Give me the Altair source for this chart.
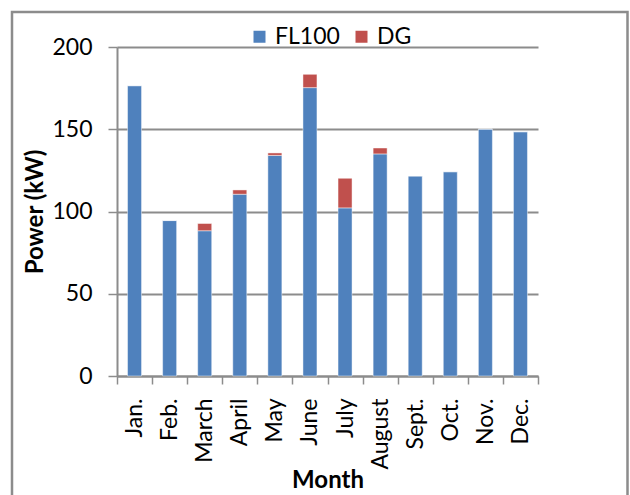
import altair as alt
import pandas as pd

# Monthly power supplied by each source (kW)
months = ["Jan.", "Feb.", "March", "April", "May", "June",
          "July", "August", "Sept.", "Oct.", "Nov.", "Dec."]
fl100 = [176.5, 94.5, 88.3, 110.5, 134.1, 175.3, 102.2, 135.0, 121.6, 124.2, 150.1, 148.5]
dg = [0.0, 0.0, 4.4, 2.6, 1.5, 8.1, 18.0, 3.6, 0.0, 0.0, 0.0, 0.0]
sources = ["FL100", "DG"]
colors = ["#4F81BD", "#C0504D"]
y_ticks = [0, 50, 100, 150, 200]

rows = []
for m, a, b in zip(months, fl100, dg):
    rows.append({"Month": m, "Source": "FL100", "Power": a, "rank": 0})
    rows.append({"Month": m, "Source": "DG", "Power": b, "rank": 1})
df = pd.DataFrame(rows)

FONT = "Lato"
GRID = "#8c8c8c"

bars = alt.Chart(df).mark_bar(size=14, stroke="white", strokeOpacity=0.45, strokeWidth=1).encode(
    x=alt.X(
        "Month:N",
        sort=months,
        scale=alt.Scale(paddingInner=0, paddingOuter=0),
        axis=alt.Axis(
            title="Month",
            labelAngle=-90,
            labelFontSize=23,
            labelPadding=14,
            tickBand="extent",
            tickSize=8,
            tickColor=GRID,
            tickWidth=1.5,
            domainColor=GRID,
            domainWidth=2,
            titleFontSize=24,
            titleFontWeight="bold",
            titleY=104,
            titleBaseline="middle",
        ),
    ),
    y=alt.Y(
        "Power:Q",
        stack="zero",
        scale=alt.Scale(domain=[0, 200], nice=False),
        axis=alt.Axis(
            title="Power (kW)",
            values=y_ticks,
            labelFontSize=23,
            labelPadding=16,
            tickSize=9,
            tickColor=GRID,
            tickWidth=1.5,
            domainColor=GRID,
            domainWidth=2,
            gridColor=GRID,
            gridWidth=2,
            titleFontSize=24,
            titleFontWeight="bold",
            titleX=-82,
            titleBaseline="middle",
        ),
    ),
    color=alt.Color(
        "Source:N",
        scale=alt.Scale(domain=sources, range=colors),
        legend=alt.Legend(
            title=None,
            orient="none",
            direction="horizontal",
            legendX=131,
            legendY=-22,
            symbolType="square",
            symbolSize=144,
            symbolStrokeWidth=0,
            labelFontSize=23,
            labelOffset=4,
            columnPadding=10,
        ),
    ),
    order=alt.Order("rank:Q", sort="ascending"),
)

# Gray frame around the whole chart
frame = alt.Chart(pd.DataFrame({"f": [0]})).mark_rect(
    fill=None, stroke=GRID, strokeWidth=2.5
).encode(
    x=alt.value(-105), x2=alt.value(510.5),
    y=alt.value(-35), y2=alt.value(480),
)

chart = alt.layer(bars, frame).properties(
    width=421,
    height=329,
    autosize=alt.AutoSizeParams(type="none"),
    padding={"left": 117, "top": 47, "right": 92, "bottom": 119},
    background="white",
).configure_view(stroke=None).configure_axis(
    labelFont=FONT, titleFont=FONT, labelColor="black", titleColor="black", grid=False
).configure_axisY(grid=True).configure_legend(labelFont=FONT, labelColor="black")

chart.save("out.html", embed_options={"renderer": "svg", "actions": False})
